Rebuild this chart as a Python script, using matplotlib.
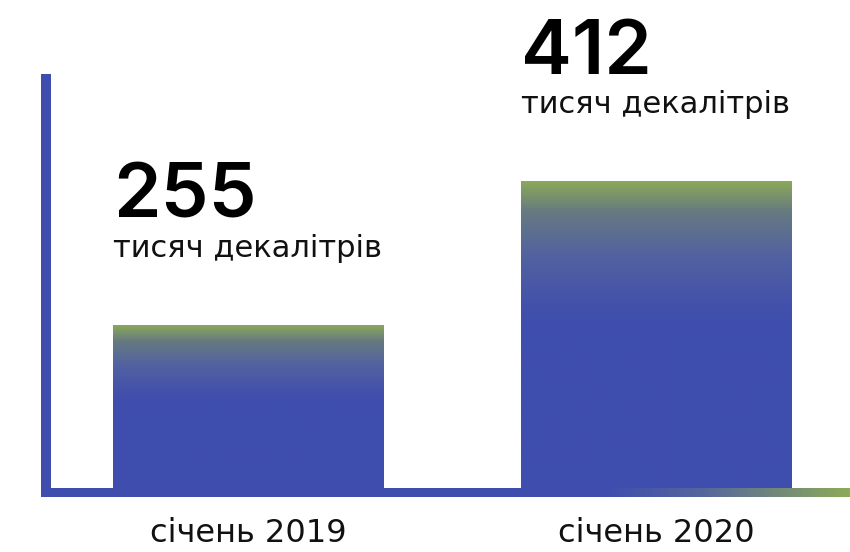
import numpy as np
import matplotlib
matplotlib.use("Agg")
import matplotlib.pyplot as plt
from matplotlib.colors import LinearSegmentedColormap

# data
periods = ["січень 2019", "січень 2020"]
volumes = [255, 412]
unit_label = "тисяч декалітрів"

BLUE = "#3F4EAE"
GREEN = "#8CAA58"

plt.rcParams['font.family'] = ['DejaVu Sans']

fig = plt.figure(figsize=(8.5, 5.52), dpi=100)
W, H = 850.0, 552.0

# main axes: left spine is the vertical blue bar
ax = fig.add_axes([46 / W, (H - 492.5) / H, (W - 46) / W, (492.5 - 74) / H])
ax.set_xlim(-0.495, 1.475)
ax.set_ylim(72.5, 528.6)

bar_cmap = LinearSegmentedColormap.from_list(
    "bar", [(0.0, BLUE), (0.54, BLUE), (0.6, "#4451AB"),
            (0.76, "#5262A0"), (0.9, "#667A80"), (1.0, GREEN)])

x = np.arange(len(periods))
bars = ax.bar(x, volumes, width=0.662, color="none", edgecolor="none")
grad = np.linspace(0, 1, 256).reshape(-1, 1)
y_lo = ax.get_ylim()[0]
for rect, val in zip(bars, volumes):
    x0 = rect.get_x()
    x1 = x0 + rect.get_width()
    im = ax.imshow(grad, cmap=bar_cmap, origin="lower", aspect="auto",
                   extent=[x0, x1, y_lo, val], interpolation="bicubic", zorder=2)
    im.set_clip_path(rect)
    ax.text(x0, val + 117, str(val), fontsize=55, fontweight="semibold",
            family=["Inter", "DejaVu Sans"], va="baseline", ha="left",
            color="black")
    ax.text(x0, val + 74, unit_label, fontsize=22,
            va="baseline", ha="left", color="#111111")

ax.set_xlim(-0.495, 1.475)
ax.set_ylim(72.5, 528.6)

for s in ["top", "right", "bottom"]:
    ax.spines[s].set_visible(False)
ax.spines["left"].set_color(BLUE)
ax.spines["left"].set_linewidth(7.2)
ax.spines["left"].set_capstyle("butt")
ax.set_yticks([])
ax.set_xticks(x)
ax.set_xticklabels(periods, fontsize=23, color="#111111")
ax.tick_params(axis="x", length=0, pad=18)
ax.patch.set_alpha(0)

# baseline with gradient toward the right end
bax = fig.add_axes([41 / W, (H - 497) / H, (W - 41) / W, 9 / H])
line_cmap = LinearSegmentedColormap.from_list(
    "line", [(0.0, BLUE), (0.7, BLUE), (0.82, "#56669C"), (1.0, GREEN)])
bax.imshow(np.linspace(0, 1, 512).reshape(1, -1), cmap=line_cmap,
           aspect="auto", extent=[0, 1, 0, 1])
bax.axis("off")

fig.savefig("out.png", dpi=100)
